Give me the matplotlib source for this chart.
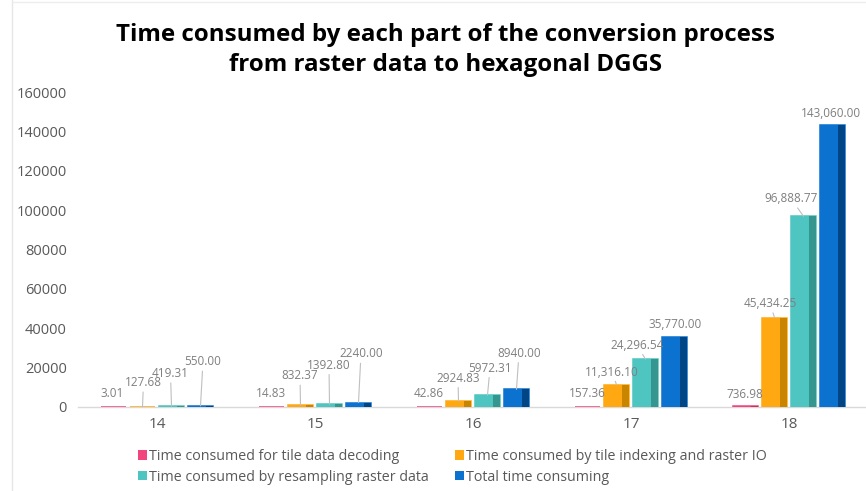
import matplotlib.pyplot as plt
import numpy as np
from matplotlib.patches import Patch
from matplotlib.lines import Line2D

plt.rcParams['font.family'] = ['Open Sans', 'DejaVu Sans']

levels = ['14', '15', '16', '17', '18']
decoding = [3.01, 14.83, 42.86, 157.36, 736.98]
indexing_io = [127.68, 832.37, 2924.83, 11316.10, 45434.25]
resampling = [419.31, 1392.80, 5972.31, 24296.54, 96888.77]
total = [550.00, 2240.00, 8940.00, 35770.00, 143060.00]

series_names = ['Time consumed for tile data decoding',
                'Time consumed by tile indexing and raster IO',
                'Time consumed by resampling raster data',
                'Total time consuming']
series_values = [decoding, indexing_io, resampling, total]
front_colors = ['#F2457E', '#FFA812', '#4EC5C0', '#0B72D0']
side_colors = ['#C9305F', '#C98400', '#359690', '#014585']

# value label offsets in pixels from the bar top: (dx, dy, draw leader line)
label_offsets = [
    [(-1.5, 13, False), (-0.5, 13, False), (-1, 13, False), (-0.5, 13, False), (-0.5, 11.5, False)],
    [(1, 24, True), (-0.5, 29.5, True), (-0.5, 23, True), (-4.5, 12.7, True), (-4.5, 14, True)],
    [(-1, 32.5, True), (-0.5, 39, True), (2.5, 27, True), (-8.5, 14, True), (-12.5, 17.6, True)],
    [(2.5, 44, True), (2.5, 48.6, True), (2.5, 36, True), (0.5, 12.5, False), (-1.5, 11.5, False)],
]


def fmt(v):
    return f'{v:,.2f}' if v >= 10000 else f'{v:.2f}'


fig = plt.figure(figsize=(8.66, 4.91), dpi=100)
ax = fig.add_axes([78 / 866, 84 / 491, 790 / 866, 315 / 491])

x = np.arange(len(levels))
step = 0.1835
w = 0.158
side_w = w * 7 / 26
for i, vals in enumerate(series_values):
    xs = x + (i - 1.5) * step
    ax.bar(xs, vals, width=w, color=front_colors[i], edgecolor=front_colors[i], linewidth=1.1, zorder=3)
    ax.bar(xs + w / 2 - side_w / 2, vals, width=side_w, color=side_colors[i], linewidth=0, zorder=4)
    for j, v in enumerate(vals):
        dx, dy, leader = label_offsets[i][j]
        arrow = dict(arrowstyle='-', color='#BFBFBF', lw=0.8, shrinkA=0, shrinkB=0) if leader else None
        ax.annotate(fmt(v), xy=(xs[j], v), xytext=(dx, dy), textcoords='offset pixels',
                    ha='center', va='center', fontsize=8.5, color='#7F7F7F',
                    arrowprops=arrow, annotation_clip=False, zorder=5)

ax.set_xlim(-0.5, len(levels) - 0.5)
ax.set_ylim(0, 160000)
ax.set_yticks(np.arange(0, 160001, 20000))
ax.set_xticks(x)
ax.set_xticklabels(levels)
for s in ['top', 'right', 'left']:
    ax.spines[s].set_visible(False)
ax.spines['bottom'].set_color('#D9D9D9')
ax.spines['bottom'].set_linewidth(1)
ax.spines['bottom'].set_zorder(1)
ax.tick_params(axis='y', length=0, pad=8, labelsize=10.5, labelcolor='#595959')
ax.tick_params(axis='x', length=0, pad=7, labelsize=11, labelcolor='#595959')

fig.text(0.514, 1 - 50 / 491,
         'Time consumed by each part of the conversion process\nfrom raster data to hexagonal DGGS',
         ha='center', va='center', fontsize=17.4, fontweight='bold', linespacing=1.3)

order = [0, 2, 1, 3]
handles = [Patch(facecolor=front_colors[k], edgecolor='none') for k in order]
fig.legend(handles, [series_names[k] for k in order], ncol=2, frameon=False,
           loc='upper left', bbox_to_anchor=(131 / 866, 1 - 442 / 491),
           fontsize=10.3, labelcolor='#595959', handlelength=0.62, handleheight=0.62,
           handletextpad=0.15, columnspacing=1.8, borderpad=0, labelspacing=0.4)

# thin frame lines along the left and top edges
fig.add_artist(Line2D([12 / 866, 12 / 866], [0, 1], color='#E6E6E6', lw=1))
fig.add_artist(Line2D([12 / 866, 1], [1 - 2 / 491, 1 - 2 / 491], color='#EDEDED', lw=1))

fig.savefig('out.png', dpi=100)
